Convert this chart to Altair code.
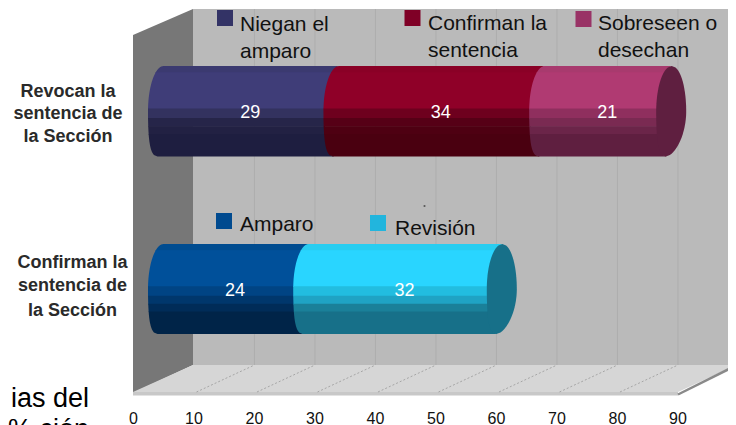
import math
import altair as alt
import pandas as pd

# ---- values ----
SEGMENTS_TOP = [29, 34, 21]
SEGMENTS_BOTTOM = [24, 32]
COLORS_TOP = [
    ["#3b3a70", "#3f3d78", "#33325f", "#262549", "#222143", "#1e1e40"],
    ["#8a0026", "#8f0028", "#6e001e", "#560016", "#4e0012", "#4a0010"],
    ["#a83a6e", "#b03a72", "#8f2f5e", "#7a2a52", "#6b2549", "#5f1f40"],
]
COLORS_BOTTOM = [
    ["#004c90", "#00509a", "#004484", "#00376c", "#002c58", "#002448"],
    ["#28cdf0", "#29d5ff", "#22bde0", "#1fa3c4", "#1a8099", "#177089"],
]
CAP_TOP = "#5f1f40"
CAP_BOTTOM = "#177089"
BAND_STOPS = [0, 0.07, 0.47, 0.575, 0.665, 0.75, 1]
TICKS = [0, 10, 20, 30, 40, 50, 60, 70, 80, 90]
GRID = [20, 30, 40, 50, 60, 70, 80, 90]
LEGEND_TOP = [("Niegan el", "amparo"), ("Confirman la", "sentencia"), ("Sobreseen o", "desechan")]
ROW_TOP = ["Revocan la", "sentencia de", "la Sección"]
ROW_BOTTOM = ["Confirman la", "sentencia de", "la Sección"]

# ---- scene geometry ----
UNIT = 6.05         # px per value unit
ORIGIN = 133        # px of value 0 on the front edge
def u(px):
    return (px - ORIGIN) / UNIT

xs = alt.Scale(domain=[u(8), u(728)], nice=False, zero=False)
ys = alt.Scale(domain=[425, 8], nice=False, zero=False)
AX = alt.Axis(values=TICKS, domain=False, ticks=False, grid=False, title=None,
              labelFont="Liberation Sans", labelFontSize=16, labelColor="#111111",
              labelPadding=0, offset=-15, format="d", labelFlush=False)
X = alt.X("x:Q", scale=xs, axis=AX)
Y = alt.Y("y:Q", scale=ys, axis=None)

def tilt(t):
    return -5.5 * t * t if t > 0 else 0.5 * t * t

def left_off(t):
    return (15 * (1 - math.sqrt(max(0, 1 - t * t))) + tilt(t)) / UNIT

def right_off(t):
    return (15 * (1 + math.sqrt(max(0, 1 - t * t))) + tilt(t)) / UNIT

def cylinder(vals, palette, cap, top, bottom, name):
    rows, labels = [], []
    start = u(148)
    h = bottom - top
    cum = 0
    edges = []
    for i, v in enumerate(vals):
        a, b = start + cum, start + cum + v
        edges.append((a, b))
        labels.append({"x": (a + b) / 2 + 14.5 / UNIT, "y": (top + bottom) / 2 + 2 - (top + bottom) / 2 % 1, "t": str(v)})
        cum += v
    for i, (a, b) in enumerate(edges):
        for k in range(6):
            y0 = top + BAND_STOPS[k] * h
            y1 = top + BAND_STOPS[k + 1] * h
            n = 14
            for j in range(n + 1):
                y = y0 + (y1 - y0 + (0.6 if k < 5 else 0)) * j / n
                t = max(-1, min(1, 2 * (y - top) / h - 1))
                rows.append({"id": f"{name}{i}-{k}", "o": i * 10 + k, "c": palette[i][k], "y": y,
                             "x": a + left_off(t), "x2": b + left_off(t) + 0.2})
    a, b = edges[-1]
    for j in range(61):
        y = top + h * j / 60
        t = 2 * j / 60 - 1
        rows.append({"id": f"{name}cap", "o": 99, "c": cap, "y": y,
                     "x": b + left_off(t), "x2": b + right_off(t)})
    return rows, labels

rows1, lab1 = cylinder(SEGMENTS_TOP, COLORS_TOP, CAP_TOP, 66, 156.5, "a")
rows2, lab2 = cylinder(SEGMENTS_BOTTOM, COLORS_BOTTOM, CAP_BOTTOM, 244, 334, "b")
bars = pd.DataFrame(rows1 + rows2)
value_labels = pd.DataFrame(lab1 + lab2)

# walls and floor
back = pd.DataFrame([{"x": u(193), "x2": u(728), "y": 9, "y2": 365}])
side = pd.DataFrame([{"x": u(133), "y": 35, "y2": 393}, {"x": u(193), "y": 9, "y2": 365}])
floor = pd.DataFrame([{"y": 365, "x": u(193), "x2": u(736)}, {"y": 392, "x": u(133), "x2": u(678)}])
front = pd.DataFrame([{"x": u(133), "x2": u(678), "y": 392, "y2": 395.5}])
edge = pd.DataFrame([{"x": u(678), "y": 394.5}, {"x": u(736), "y": 365.5}])
grid = pd.DataFrame([{"x": g + 0.08, "y": 9, "y2": 365} for g in GRID])
dash_rows = []
for g in GRID:
    dash_rows.append({"g": g, "x": g + 0.08, "y": 365})
    dash_rows.append({"g": g, "x": g + 0.08 - 58 / UNIT, "y": 392})
dashes = pd.DataFrame(dash_rows)

squares = pd.DataFrame([
    {"x": u(217), "x2": u(233), "y": 10, "y2": 26, "c": "#333366"},
    {"x": u(404.5), "x2": u(420.5), "y": 10, "y2": 26, "c": "#7f0026"},
    {"x": u(575.5), "x2": u(591.5), "y": 11, "y2": 27, "c": "#993366"},
    {"x": u(216), "x2": u(232), "y": 213, "y2": 229, "c": "#004a8f"},
    {"x": u(370), "x2": u(386), "y": 215, "y2": 231, "c": "#22b5dd"},
])
legend_text = pd.DataFrame([
    {"x": u(240), "y": 31, "t": LEGEND_TOP[0][0]}, {"x": u(240), "y": 58, "t": LEGEND_TOP[0][1]},
    {"x": u(428), "y": 30, "t": LEGEND_TOP[1][0]}, {"x": u(428), "y": 57, "t": LEGEND_TOP[1][1]},
    {"x": u(598), "y": 30, "t": LEGEND_TOP[2][0]}, {"x": u(598), "y": 57, "t": LEGEND_TOP[2][1]},
    {"x": u(240), "y": 231, "t": "Amparo"}, {"x": u(395), "y": 235, "t": "Revisión"},
])
row_text = pd.DataFrame(
    [{"x": u(68), "y": yy, "t": t} for yy, t in zip([97, 119, 142], ROW_TOP)]
    + [{"x": u(72.5), "y": yy, "t": t} for yy, t in zip([268, 291, 316], ROW_BOTTOM)]
)
body_text = pd.DataFrame([
    {"x": u(89), "y": 407, "t": "ias del"},
    {"x": u(89), "y": 438, "t": "% ción"},
])
speck = pd.DataFrame([{"x": u(424.5), "y": 206}])

layers = [
    alt.Chart(back).mark_rect(color="#bababa").encode(x=X, x2="x2:Q", y=Y, y2="y2:Q"),
    alt.Chart(side).mark_area(color="#777777", orient="vertical").encode(x=X, y=Y, y2="y2:Q"),
    alt.Chart(grid).mark_rule(color="#aeaeae", strokeWidth=1).encode(x=X, y=Y, y2="y2:Q"),
    alt.Chart(floor).mark_area(color="#d6d6d6", orient="horizontal").encode(y=Y, x=X, x2="x2:Q"),
    alt.Chart(front).mark_rect(color="#c8c8c8").encode(x=X, x2="x2:Q", y=Y, y2="y2:Q"),
    alt.Chart(edge).mark_line(color="#8a8a8a", strokeWidth=2.5).encode(x=X, y=Y),
    alt.Chart(dashes).mark_line(color="#a6a6a6", strokeWidth=1, strokeDash=[2, 2]).encode(x=X, y=Y, detail="g:N"),
    alt.Chart(bars).mark_area(orient="horizontal").encode(
        y=Y, x=X, x2="x2:Q", detail="id:N", order="o:Q", color=alt.Color("c:N", scale=None)),
    alt.Chart(value_labels).mark_text(font="Liberation Sans", fontSize=18, color="white", baseline="middle").encode(
        x=X, y=Y, text="t:N"),
    alt.Chart(squares).mark_rect().encode(x=X, x2="x2:Q", y=Y, y2="y2:Q", color=alt.Color("c:N", scale=None)),
    alt.Chart(legend_text).mark_text(font="Liberation Sans", fontSize=21, color="#111111", align="left", baseline="alphabetic").encode(
        x=X, y=Y, text="t:N"),
    alt.Chart(row_text).mark_text(font="Liberation Sans", fontSize=18, fontWeight="bold", color="#2a2a2a", align="center", baseline="alphabetic").encode(
        x=X, y=Y, text="t:N"),
    alt.Chart(body_text).mark_text(font="Liberation Sans", fontSize=27, color="#000000", align="right", baseline="alphabetic").encode(
        x=X, y=Y, text="t:N"),
    alt.Chart(speck).mark_point(filled=True, size=3, color="#222222", shape="square").encode(x=X, y=Y),
]

chart = alt.layer(*layers).properties(
    width=720, height=417, padding=0, background="white",
    autosize=alt.AutoSizeParams(type="none"),
).configure_view(stroke=None)

chart.save("out.html", embed_options={"renderer": "svg", "actions": False})
